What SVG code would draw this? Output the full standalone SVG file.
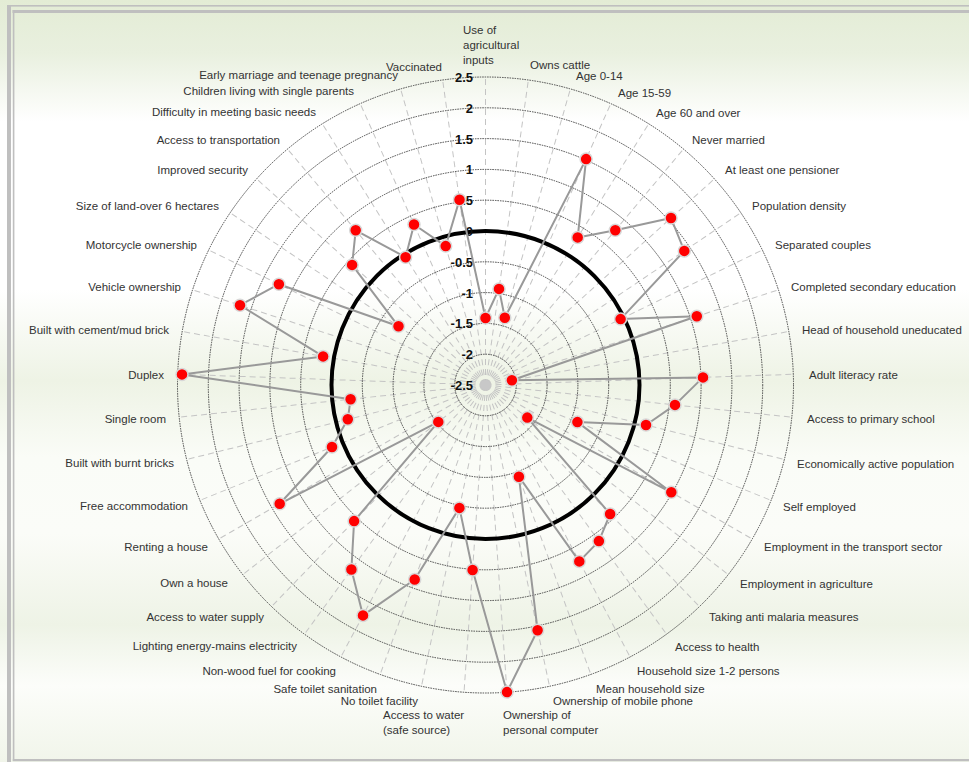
<svg xmlns="http://www.w3.org/2000/svg" xmlns:xlink="http://www.w3.org/1999/xlink" width="969" height="762" viewBox="0 0 969 762">
<defs>
<linearGradient id="bg" x1="0" y1="0" x2="0" y2="1">
<stop offset="0" stop-color="#e3ecd5"/>
<stop offset="0.07" stop-color="#e9f0df"/>
<stop offset="0.16" stop-color="#ffffff"/>
<stop offset="0.38" stop-color="#ffffff"/>
<stop offset="0.5" stop-color="#eef3e5"/>
<stop offset="0.6" stop-color="#fafcf7"/>
<stop offset="0.7" stop-color="#fbfcf8"/>
<stop offset="0.82" stop-color="#eef3e6"/>
<stop offset="0.9" stop-color="#fcfdfa"/>
<stop offset="1" stop-color="#f1f5ea"/>
</linearGradient>
<line id="spoke" x1="485.5" y1="385" x2="485.5" y2="77"/>
</defs>
<style>
.spk{stroke:#c4c4c4;stroke-width:1;stroke-dasharray:6 4;fill:none}
.ring{fill:none;stroke:#444;stroke-width:1;stroke-dasharray:1.5 1}
.zero{fill:none;stroke:#000;stroke-width:4}
.ax{font-family:"Liberation Sans",Arial,sans-serif;font-size:13px;font-weight:bold;fill:#111;text-anchor:end}
.lbl{font-family:"Liberation Sans",Arial,sans-serif;font-size:11.5px;fill:#333}
.r{text-anchor:start}
.l{text-anchor:end}
.series{fill:none;stroke:#999;stroke-width:2;stroke-linejoin:round}
.mk{fill:#ff0000;stroke:#d8d8d8;stroke-width:1.5}
</style>
<rect x="0" y="0" width="969" height="762" fill="url(#bg)"/>
<g id="frame" fill="#bfbfbf">
<rect x="7" y="5" width="962" height="1.6"/>
<rect x="7" y="5" width="4" height="757"/>
<rect x="12.5" y="10" width="956.5" height="3"/>
<rect x="12.8" y="10" width="1.6" height="751"/>
<rect x="12.8" y="759" width="956.2" height="2.2"/>
</g>
<g id="spokes" class="spk">
<use xlink:href="#spoke" transform="rotate(0 485.5 385)"/>
<use xlink:href="#spoke" transform="rotate(8 485.5 385)"/>
<use xlink:href="#spoke" transform="rotate(16 485.5 385)"/>
<use xlink:href="#spoke" transform="rotate(24 485.5 385)"/>
<use xlink:href="#spoke" transform="rotate(32 485.5 385)"/>
<use xlink:href="#spoke" transform="rotate(40 485.5 385)"/>
<use xlink:href="#spoke" transform="rotate(48 485.5 385)"/>
<use xlink:href="#spoke" transform="rotate(56 485.5 385)"/>
<use xlink:href="#spoke" transform="rotate(64 485.5 385)"/>
<use xlink:href="#spoke" transform="rotate(72 485.5 385)"/>
<use xlink:href="#spoke" transform="rotate(80 485.5 385)"/>
<use xlink:href="#spoke" transform="rotate(88 485.5 385)"/>
<use xlink:href="#spoke" transform="rotate(96 485.5 385)"/>
<use xlink:href="#spoke" transform="rotate(104 485.5 385)"/>
<use xlink:href="#spoke" transform="rotate(112 485.5 385)"/>
<use xlink:href="#spoke" transform="rotate(120 485.5 385)"/>
<use xlink:href="#spoke" transform="rotate(128 485.5 385)"/>
<use xlink:href="#spoke" transform="rotate(136 485.5 385)"/>
<use xlink:href="#spoke" transform="rotate(144 485.5 385)"/>
<use xlink:href="#spoke" transform="rotate(152 485.5 385)"/>
<use xlink:href="#spoke" transform="rotate(160 485.5 385)"/>
<use xlink:href="#spoke" transform="rotate(168 485.5 385)"/>
<use xlink:href="#spoke" transform="rotate(176 485.5 385)"/>
<use xlink:href="#spoke" transform="rotate(184 485.5 385)"/>
<use xlink:href="#spoke" transform="rotate(192 485.5 385)"/>
<use xlink:href="#spoke" transform="rotate(200 485.5 385)"/>
<use xlink:href="#spoke" transform="rotate(208 485.5 385)"/>
<use xlink:href="#spoke" transform="rotate(216 485.5 385)"/>
<use xlink:href="#spoke" transform="rotate(224 485.5 385)"/>
<use xlink:href="#spoke" transform="rotate(232 485.5 385)"/>
<use xlink:href="#spoke" transform="rotate(240 485.5 385)"/>
<use xlink:href="#spoke" transform="rotate(248 485.5 385)"/>
<use xlink:href="#spoke" transform="rotate(256 485.5 385)"/>
<use xlink:href="#spoke" transform="rotate(264 485.5 385)"/>
<use xlink:href="#spoke" transform="rotate(272 485.5 385)"/>
<use xlink:href="#spoke" transform="rotate(280 485.5 385)"/>
<use xlink:href="#spoke" transform="rotate(288 485.5 385)"/>
<use xlink:href="#spoke" transform="rotate(296 485.5 385)"/>
<use xlink:href="#spoke" transform="rotate(304 485.5 385)"/>
<use xlink:href="#spoke" transform="rotate(312 485.5 385)"/>
<use xlink:href="#spoke" transform="rotate(320 485.5 385)"/>
<use xlink:href="#spoke" transform="rotate(328 485.5 385)"/>
<use xlink:href="#spoke" transform="rotate(336 485.5 385)"/>
<use xlink:href="#spoke" transform="rotate(344 485.5 385)"/>
<use xlink:href="#spoke" transform="rotate(352 485.5 385)"/>
</g>
<g id="rings" class="ring">
<circle cx="485.5" cy="385" r="30.8"/>
<circle cx="485.5" cy="385" r="61.6"/>
<circle cx="485.5" cy="385" r="92.4"/>
<circle cx="485.5" cy="385" r="123.2"/>
<circle cx="485.5" cy="385" r="154"/>
<circle cx="485.5" cy="385" r="184.8"/>
<circle cx="485.5" cy="385" r="215.6"/>
<circle cx="485.5" cy="385" r="246.4"/>
<circle cx="485.5" cy="385" r="277.2"/>
<circle cx="485.5" cy="385" r="308"/>
</g>
<circle id="center" cx="485.5" cy="385" r="5" fill="#c8c8c8"/>
<circle id="zero-line" class="zero" cx="485.5" cy="385" r="154"/>
<g id="axis-values" class="ax">
<text x="473" y="390">-2.5</text>
<text x="473" y="359.2">-2</text>
<text x="473" y="328.4">-1.5</text>
<text x="473" y="297.6">-1</text>
<text x="473" y="266.8">-0.5</text>
<text x="473" y="236">0</text>
<text x="473" y="205.2">0.5</text>
<text x="473" y="174.4">1</text>
<text x="473" y="143.6">1.5</text>
<text x="473" y="112.8">2</text>
<text x="473" y="82">2.5</text>
</g>
<g id="connectors">
<polygon class="series" points="485.5,318 499,288.9 504.8,317.7 586.1,159.1 577.7,237.4 615.3,230.3 671,218 684.3,250.9 620.6,319.1 696.8,316.3 511.9,380.3 703,377.4 675,404.9 646,425 577.4,422.1 671.3,492.3 527.3,417.6 610.1,514 598.9,541.1 579.3,561.4 518.9,476.7 537.6,630.3 507,692.1 472.6,570 459.4,507.9 414.7,579.5 363,615.4 351.4,569.5 354.1,521.1 438.3,421.9 279.7,503.8 332,447 347.8,419.3 350.6,399.2 182,374.4 323.1,356.4 240,305.2 278.9,284.2 398.5,326.3 352.1,264.9 355.7,230.3 405.6,257.2 414,224.5 445.7,246.1 459.5,199.8"/>
</g>
<g id="markers" class="mk">
<circle cx="485.5" cy="318" r="6"/>
<circle cx="499" cy="288.9" r="6"/>
<circle cx="504.8" cy="317.7" r="6"/>
<circle cx="586.1" cy="159.1" r="6"/>
<circle cx="577.7" cy="237.4" r="6"/>
<circle cx="615.3" cy="230.3" r="6"/>
<circle cx="671" cy="218" r="6"/>
<circle cx="684.3" cy="250.9" r="6"/>
<circle cx="620.6" cy="319.1" r="6"/>
<circle cx="696.8" cy="316.3" r="6"/>
<circle cx="511.9" cy="380.3" r="6"/>
<circle cx="703" cy="377.4" r="6"/>
<circle cx="675" cy="404.9" r="6"/>
<circle cx="646" cy="425" r="6"/>
<circle cx="577.4" cy="422.1" r="6"/>
<circle cx="671.3" cy="492.3" r="6"/>
<circle cx="527.3" cy="417.6" r="6"/>
<circle cx="610.1" cy="514" r="6"/>
<circle cx="598.9" cy="541.1" r="6"/>
<circle cx="579.3" cy="561.4" r="6"/>
<circle cx="518.9" cy="476.7" r="6"/>
<circle cx="537.6" cy="630.3" r="6"/>
<circle cx="507" cy="692.1" r="6"/>
<circle cx="472.6" cy="570" r="6"/>
<circle cx="459.4" cy="507.9" r="6"/>
<circle cx="414.7" cy="579.5" r="6"/>
<circle cx="363" cy="615.4" r="6"/>
<circle cx="351.4" cy="569.5" r="6"/>
<circle cx="354.1" cy="521.1" r="6"/>
<circle cx="438.3" cy="421.9" r="6"/>
<circle cx="279.7" cy="503.8" r="6"/>
<circle cx="332" cy="447" r="6"/>
<circle cx="347.8" cy="419.3" r="6"/>
<circle cx="350.6" cy="399.2" r="6"/>
<circle cx="182" cy="374.4" r="6"/>
<circle cx="323.1" cy="356.4" r="6"/>
<circle cx="240" cy="305.2" r="6"/>
<circle cx="278.9" cy="284.2" r="6"/>
<circle cx="398.5" cy="326.3" r="6"/>
<circle cx="352.1" cy="264.9" r="6"/>
<circle cx="355.7" cy="230.3" r="6"/>
<circle cx="405.6" cy="257.2" r="6"/>
<circle cx="414" cy="224.5" r="6"/>
<circle cx="445.7" cy="246.1" r="6"/>
<circle cx="459.5" cy="199.8" r="6"/>
</g>
<g id="labels" class="lbl">
<g id="lbl-use-of-agricultural-inputs"><text class="r" x="463" y="34">Use of</text><text class="r" x="463" y="49">agricultural</text><text class="r" x="463" y="64">inputs</text></g>
<g id="lbl-owns-cattle"><text class="r" x="530" y="69">Owns cattle</text></g>
<g id="lbl-age-0-14"><text class="r" x="576" y="80">Age 0-14</text></g>
<g id="lbl-age-15-59"><text class="r" x="618" y="97">Age 15-59</text></g>
<g id="lbl-age-60"><text class="r" x="656" y="117">Age 60 and over</text></g>
<g id="lbl-never-married"><text class="r" x="692" y="144">Never married</text></g>
<g id="lbl-pensioner"><text class="r" x="725" y="174">At least one pensioner</text></g>
<g id="lbl-pop-density"><text class="r" x="752" y="210">Population density</text></g>
<g id="lbl-separated"><text class="r" x="775" y="249">Separated couples</text></g>
<g id="lbl-secondary"><text class="r" x="791" y="291">Completed secondary education</text></g>
<g id="lbl-head-uneducated"><text class="r" x="802" y="334">Head of household uneducated</text></g>
<g id="lbl-literacy"><text class="r" x="809" y="379">Adult literacy rate</text></g>
<g id="lbl-primary-school"><text class="r" x="807" y="423">Access to primary school</text></g>
<g id="lbl-econ-active"><text class="r" x="797" y="468">Economically active population</text></g>
<g id="lbl-self-employed"><text class="r" x="783" y="511">Self employed</text></g>
<g id="lbl-transport-sector"><text class="r" x="764" y="551">Employment in the transport sector</text></g>
<g id="lbl-agriculture"><text class="r" x="740" y="588">Employment in agriculture</text></g>
<g id="lbl-malaria"><text class="r" x="709" y="621">Taking anti malaria measures</text></g>
<g id="lbl-health"><text class="r" x="675" y="651">Access to health</text></g>
<g id="lbl-hh-size-12"><text class="r" x="637" y="675">Household size 1-2 persons</text></g>
<g id="lbl-mean-hh"><text class="r" x="596" y="693">Mean household size</text></g>
<g id="lbl-mobile"><text class="r" x="553" y="705">Ownership of mobile phone</text></g>
<g id="lbl-computer"><text class="r" x="503" y="719">Ownership of</text><text class="r" x="503" y="734">personal computer</text></g>
<g id="lbl-water-safe"><text class="r" x="383" y="719">Access to water</text><text class="r" x="383" y="734">(safe source)</text></g>
<g id="lbl-no-toilet"><text class="l" x="418" y="705">No toilet facility</text></g>
<g id="lbl-safe-toilet"><text class="l" x="377" y="693">Safe toilet sanitation</text></g>
<g id="lbl-non-wood"><text class="l" x="336" y="675">Non-wood fuel for cooking</text></g>
<g id="lbl-lighting"><text class="l" x="297" y="650">Lighting energy-mains electricity</text></g>
<g id="lbl-water-supply"><text class="l" x="264" y="621">Access to water supply</text></g>
<g id="lbl-own-house"><text class="l" x="228" y="587">Own a house</text></g>
<g id="lbl-renting"><text class="l" x="208" y="551">Renting a house</text></g>
<g id="lbl-free-accom"><text class="l" x="188" y="510">Free accommodation</text></g>
<g id="lbl-burnt-bricks"><text class="l" x="174" y="467">Built with burnt bricks</text></g>
<g id="lbl-single-room"><text class="l" x="166" y="423">Single room</text></g>
<g id="lbl-duplex"><text class="l" x="164" y="379">Duplex</text></g>
<g id="lbl-cement"><text class="l" x="169" y="334">Built with cement/mud brick</text></g>
<g id="lbl-vehicle"><text class="l" x="181" y="291">Vehicle ownership</text></g>
<g id="lbl-motorcycle"><text class="l" x="197" y="249">Motorcycle ownership</text></g>
<g id="lbl-land"><text class="l" x="219" y="210">Size of land-over 6 hectares</text></g>
<g id="lbl-security"><text class="l" x="248" y="174">Improved security</text></g>
<g id="lbl-transportation"><text class="l" x="280" y="144">Access to transportation</text></g>
<g id="lbl-basic-needs"><text class="l" x="316" y="116">Difficulty in meeting basic needs</text></g>
<g id="lbl-single-parents"><text class="l" x="354" y="95">Children living with single parents</text></g>
<g id="lbl-early-marriage"><text class="l" x="398" y="79">Early marriage and teenage pregnancy</text></g>
<g id="lbl-vaccinated"><text class="l" x="442" y="71">Vaccinated</text></g>
</g>
</svg>
